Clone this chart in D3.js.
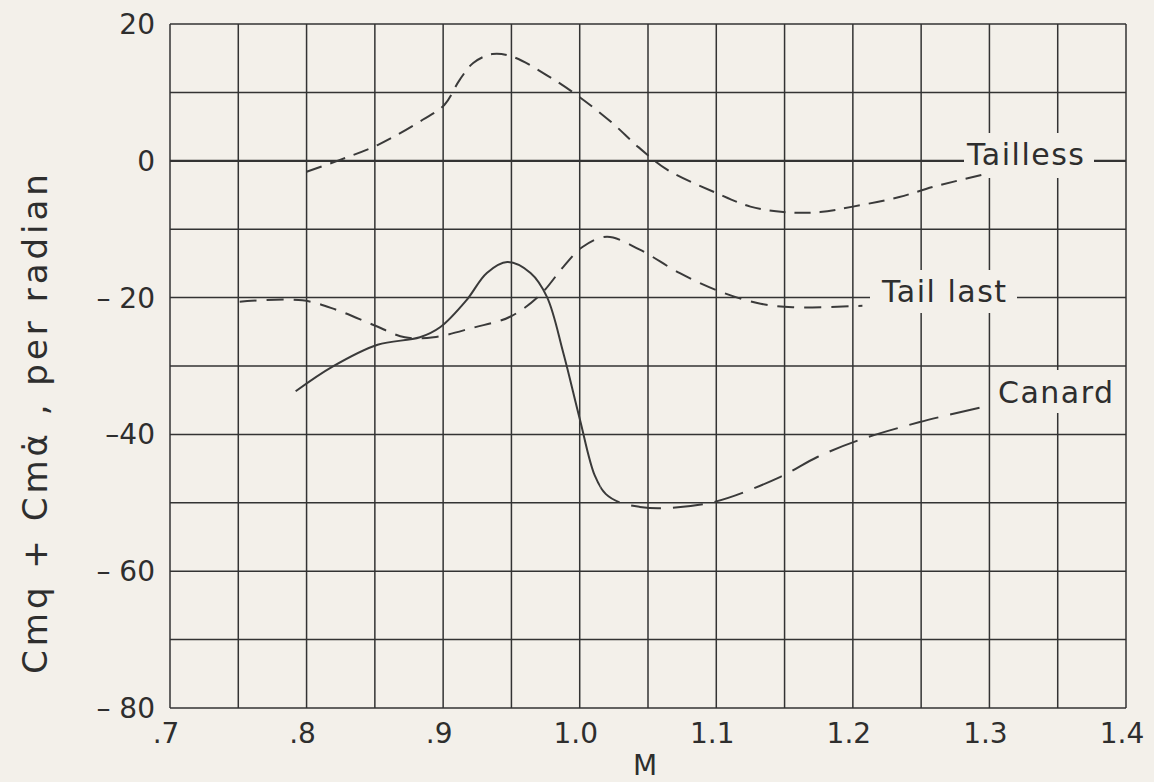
<!DOCTYPE html>
<html>
<head>
<meta charset="utf-8">
<script src="https://cdn.jsdelivr.net/npm/d3@7"></script>
<style>
  body { margin: 0; background: #f3f0ea; }
  text { font-family: "DejaVu Sans", sans-serif; fill: #2e2e2e; }
</style>
</head>
<body>
<div id="chart"></div>
<script>
// Mach number ticks and y ticks
var xTicks = [0.7, 0.8, 0.9, 1.0, 1.1, 1.2, 1.3, 1.4];
var xTickLabels = [".7", ".8", ".9", "1.0", "1.1", "1.2", "1.3", "1.4"];
var yTicks = [20, 0, -20, -40, -60, -80];
var yTickLabels = ["20", "0", "\u2013 20", "\u201340", "\u2013 60", "\u2013 80"];

// Tailless (dashed)
var taillessM = [0.800, 0.824, 0.852, 0.885, 0.901, 0.912, 0.922, 0.936, 0.951, 0.976, 1.000, 1.024, 1.043, 1.064, 1.100, 1.125, 1.149, 1.176, 1.200, 1.234, 1.259, 1.300];
var taillessC = [-1.6, 0.1, 2.3, 6.0, 8.2, 11.8, 14.3, 15.6, 15.2, 12.5, 9.3, 5.5, 2.0, -1.3, -4.7, -6.7, -7.5, -7.5, -6.7, -5.3, -3.8, -1.8];

// Tail last (dashed)
var tailLastM = [0.751, 0.797, 0.822, 0.849, 0.872, 0.893, 0.922, 0.949, 0.971, 0.988, 1.002, 1.020, 1.044, 1.073, 1.100, 1.130, 1.156, 1.207];
var tailLastC = [-20.6, -20.4, -21.8, -24.0, -25.8, -25.8, -24.4, -22.8, -19.6, -15.5, -12.6, -11.1, -13.0, -16.4, -18.9, -20.8, -21.4, -21.2];

// Canard: solid up to M = 1.015, dashed after
var canardM = [0.792, 0.819, 0.852, 0.883, 0.898, 0.917, 0.932, 0.947, 0.964, 0.976, 0.988, 1.000, 1.011, 1.019, 1.030, 1.044, 1.059, 1.098, 1.147, 1.174, 1.205, 1.249, 1.295];
var canardC = [-33.7, -30.1, -26.9, -25.8, -24.3, -20.4, -16.4, -14.8, -16.4, -19.9, -28.1, -37.7, -46.0, -48.7, -50.0, -50.6, -50.8, -49.9, -46.2, -43.3, -40.8, -38.2, -36.0];
var canardSolidEnd = 1.015;

var bg = "#f3f0ea";
var ink = "#333";

var svg = d3.select("#chart")
	.append("svg")
	.attr("width", 1154)
	.attr("height", 782);

svg.append("rect").attr("width", 1154).attr("height", 782).attr("fill", bg);

var x = d3.scaleLinear().domain([0.7, 1.4]).range([170, 1126]);
var y = d3.scaleLinear().domain([-80, 20]).range([708, 24]);

// grid: vertical every .05, horizontal every 10
var grid = svg.append("g");
grid.selectAll(".vline")
	.data(d3.range(0, 15).map(function (i) { return 0.7 + i * 0.05; }))
	.enter()
	.append("line")
	.attr("x1", function (d) { return x(d); })
	.attr("x2", function (d) { return x(d); })
	.attr("y1", y(20))
	.attr("y2", y(-80))
	.style("stroke", ink)
	.style("stroke-width", 1.5);

grid.selectAll(".hline")
	.data(d3.range(-80, 21, 10))
	.enter()
	.append("line")
	.attr("x1", x(0.7))
	.attr("x2", x(1.4))
	.attr("y1", function (d) { return y(d); })
	.attr("y2", function (d) { return y(d); })
	.style("stroke", ink)
	.style("stroke-width", function (d) { return d === 0 ? 2.3 : 1.5; });

// tick labels
svg.selectAll(".xlab")
	.data(xTicks)
	.enter()
	.append("text")
	.attr("x", function (d) { return x(d) - 4; })
	.attr("y", 743)
	.attr("text-anchor", "middle")
	.style("font-size", "28px")
	.text(function (d, i) { return xTickLabels[i]; });

svg.selectAll(".ylab")
	.data(yTicks)
	.enter()
	.append("text")
	.attr("x", 155)
	.attr("y", function (d) { return y(d) + 10; })
	.attr("text-anchor", "end")
	.style("font-size", "28px")
	.text(function (d, i) { return yTickLabels[i]; });

svg.append("text")
	.attr("x", 645)
	.attr("y", 775)
	.attr("text-anchor", "middle")
	.style("font-size", "28px")
	.text("M");

svg.append("text")
	.attr("transform", "translate(47,422) rotate(-90)")
	.attr("text-anchor", "middle")
	.style("font-size", "34px")
	.style("letter-spacing", "4px")
	.text("Cmq + Cm\u03b1\u0307 ,  per radian");

// curve labels, masking the grid behind them
var labels = [
	{ t: "Tailless", x: 967, y: 165, box: [964, 133, 130, 45] },
	{ t: "Tail last", x: 882, y: 302, box: [870, 270, 147, 43] },
	{ t: "Canard", x: 998, y: 403, box: [995, 370, 117, 43] }
];
svg.selectAll(".mask")
	.data(labels)
	.enter()
	.append("rect")
	.attr("x", function (d) { return d.box[0]; })
	.attr("y", function (d) { return d.box[1]; })
	.attr("width", function (d) { return d.box[2]; })
	.attr("height", function (d) { return d.box[3]; })
	.attr("fill", bg);
svg.selectAll(".clab")
	.data(labels)
	.enter()
	.append("text")
	.attr("x", function (d) { return d.x; })
	.attr("y", function (d) { return d.y; })
	.style("font-size", "30px")
	.style("letter-spacing", "1.5px")
	.text(function (d) { return d.t; });

// curves
var line = d3.line()
	.x(function (d) { return x(d[0]); })
	.y(function (d) { return y(d[1]); })
	.curve(d3.curveCatmullRom.alpha(0.5));

function pairs(m, c) { return m.map(function (v, i) { return [v, c[i]]; }); }

var defs = svg.append("defs");
defs.append("clipPath").attr("id", "solidPart")
	.append("rect").attr("x", 0).attr("y", 0).attr("width", x(canardSolidEnd)).attr("height", 782);
defs.append("clipPath").attr("id", "dashPart")
	.append("rect").attr("x", x(canardSolidEnd)).attr("y", 0).attr("width", 1154).attr("height", 782);

var series = [
	{ d: pairs(taillessM, taillessC), dash: "16,9", clip: null },
	{ d: pairs(tailLastM, tailLastC), dash: "17,10", clip: null },
	{ d: pairs(canardM, canardC), dash: null, clip: "url(#solidPart)" },
	{ d: pairs(canardM, canardC), dash: "30,12", clip: "url(#dashPart)" }
];

svg.selectAll(".curve")
	.data(series)
	.enter()
	.append("path")
	.attr("d", function (d) { return line(d.d); })
	.attr("fill", "none")
	.attr("clip-path", function (d) { return d.clip; })
	.style("stroke", "#3a3a3a")
	.style("stroke-width", 2)
	.style("stroke-dasharray", function (d) { return d.dash; });
</script>
</body>
</html>
